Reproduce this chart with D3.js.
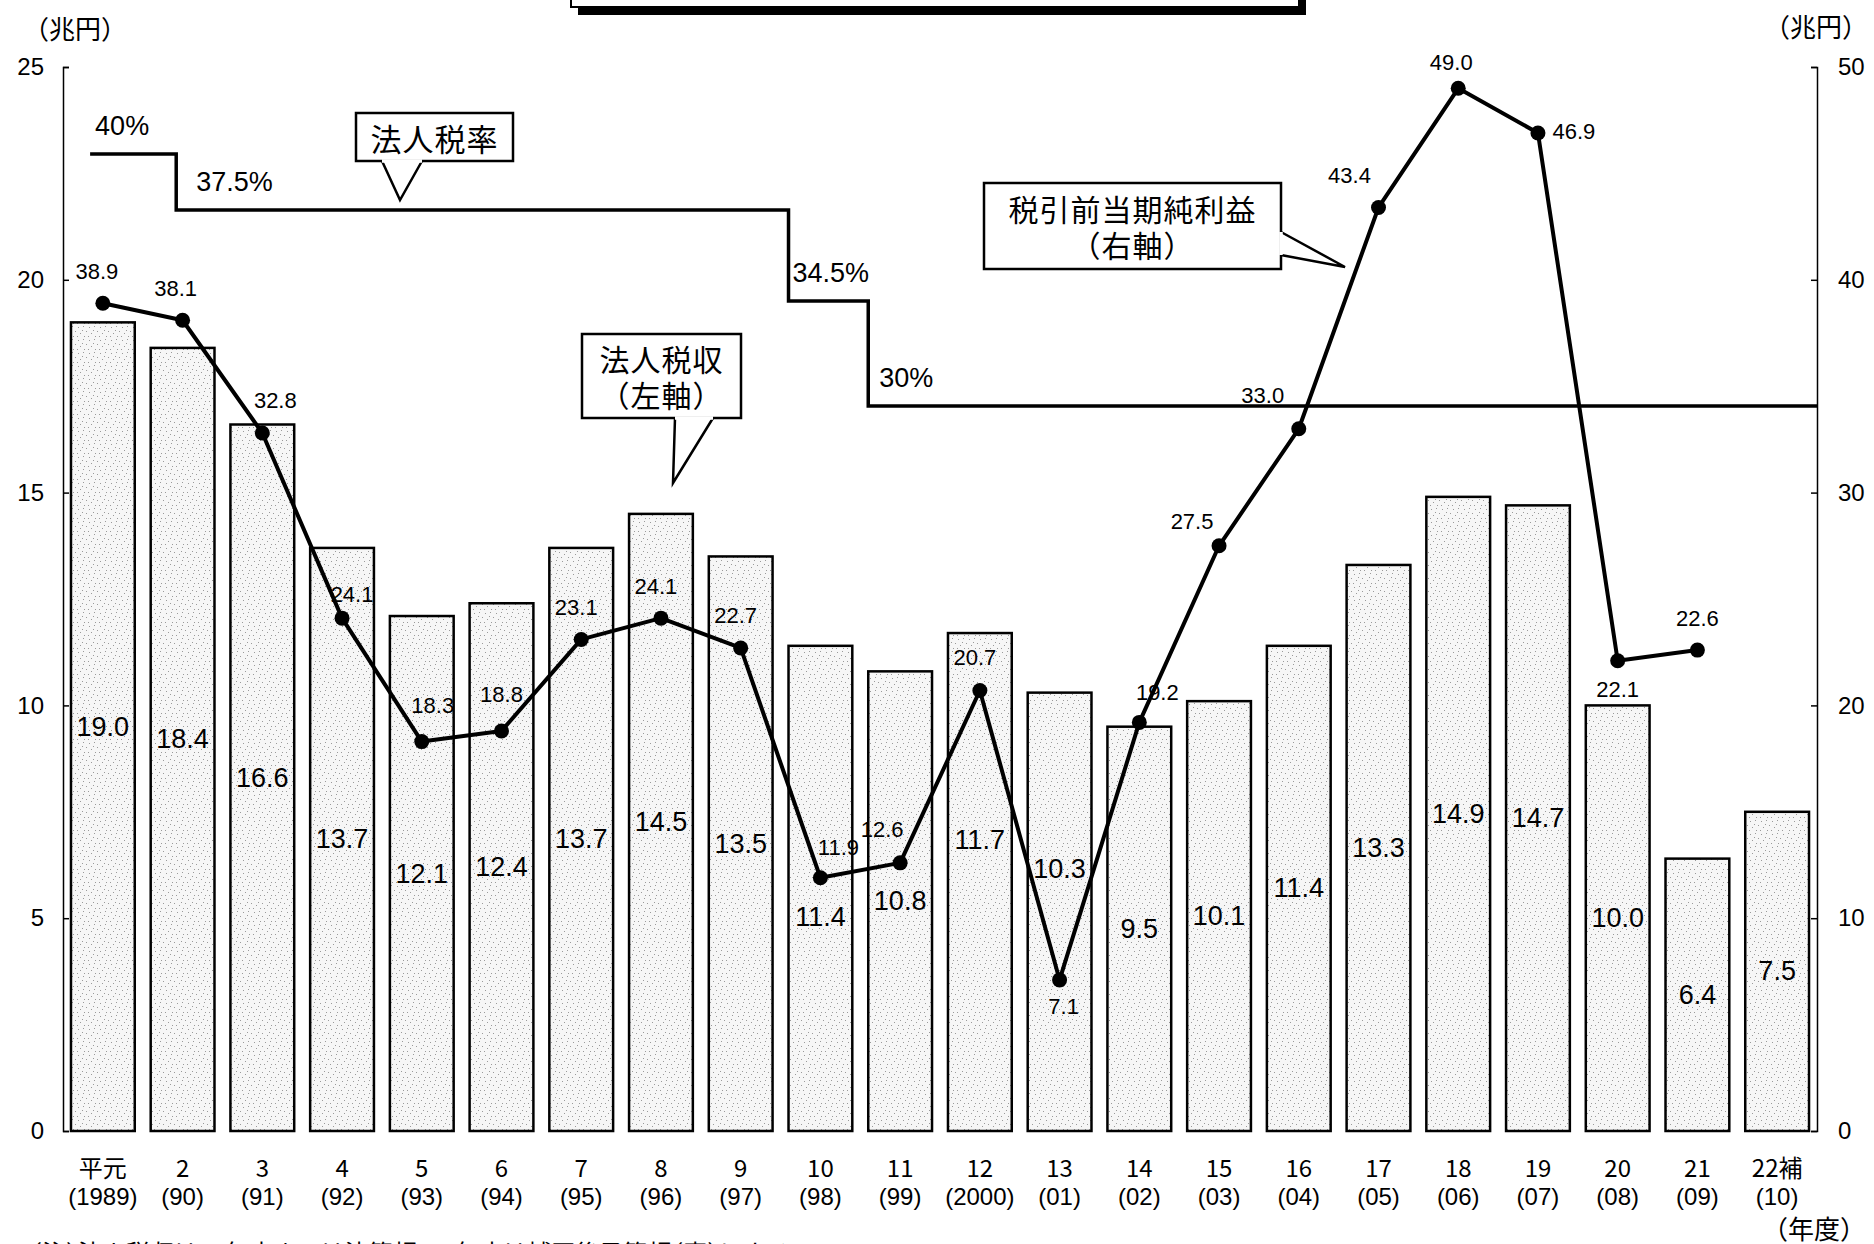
<!DOCTYPE html>
<html>
<head>
<meta charset="utf-8">
<script src="https://cdn.jsdelivr.net/npm/d3@7"></script>
<style>
  html, body { margin: 0; padding: 0; background: #fff; }
  svg { display: block; }
  .num { font-family: "Liberation Sans Narrow", "Liberation Sans", Arial, sans-serif; fill: #000; }
  .jp { font-family: "Noto Sans CJK JP", sans-serif; fill: #000; font-feature-settings: "halt" 1; }
</style>
</head>
<body>
<svg id="chart" width="1874" height="1244"></svg>
<script>
// 年度（カテゴリ）
const categories = ['平元','2','3','4','5','6','7','8','9','10','11','12','13','14','15','16','17','18','19','20','21','22補'];
const fiscalYears = ['(1989)','(90)','(91)','(92)','(93)','(94)','(95)','(96)','(97)','(98)','(99)','(2000)','(01)','(02)','(03)','(04)','(05)','(06)','(07)','(08)','(09)','(10)'];

// 法人税収（左軸、兆円）
const corpTaxRevenue = [19.0, 18.4, 16.6, 13.7, 12.1, 12.4, 13.7, 14.5, 13.5, 11.4, 10.8, 11.7, 10.3, 9.5, 10.1, 11.4, 13.3, 14.9, 14.7, 10.0, 6.4, 7.5];

// 税引前当期純利益（右軸、兆円）
const pretaxProfit = [38.9, 38.1, 32.8, 24.1, 18.3, 18.8, 23.1, 24.1, 22.7, 11.9, 12.6, 20.7, 7.1, 19.2, 27.5, 33.0, 43.4, 49.0, 46.9, 22.1, 22.6, null];

// 法人税率の推移（適用開始年度と税率）
const rateStarts = ['平元','2','10','11'];
const rateValues = [40, 37.5, 34.5, 30];
const rateLabels = ['40%','37.5%','34.5%','30%'];

// 軸目盛
const leftTicks = [0, 5, 10, 15, 20, 25];
const rightTicks = [0, 10, 20, 30, 40, 50];

const svg = d3.select('#chart');

// ---- layout ----
const plotLeft = 63, plotRight = 1817, plotTop = 67, plotBottom = 1131;

const x = d3.scaleBand().domain(categories).range([plotLeft, plotRight]).paddingInner(0.2).paddingOuter(0.1);
const yL = d3.scaleLinear().domain([0, 25]).range([plotBottom, plotTop]);
const yR = d3.scaleLinear().domain([0, 50]).range([plotBottom, plotTop]);
// 税率線は目盛のない模式的な位置
const yRate = d3.scaleLinear().domain([30, 34.5, 37.5, 40]).range([406, 301, 210, 154]);

// stipple fill for bars
const defs = svg.append('defs');
const pat = defs.append('pattern').attr('id', 'stipple').attr('patternUnits', 'userSpaceOnUse')
  .attr('width', 11).attr('height', 13);
pat.append('rect').attr('width', 11).attr('height', 13).attr('fill', '#f6f6f6');
[[1,2],[6,1],[9,6],[3,8],[7,11],[0,11],[5,5]].forEach(([px, py]) => {
  pat.append('rect').attr('x', px).attr('y', py).attr('width', 1).attr('height', 1).attr('fill', '#9a9a9a');
});

// ---- title box (top, cut off by the frame) ----
svg.append('rect').attr('x', 578).attr('y', -40).attr('width', 728).attr('height', 55).attr('fill', '#000');
svg.append('rect').attr('x', 571).attr('y', -47).attr('width', 728).attr('height', 54)
  .attr('fill', '#fff').attr('stroke', '#000').attr('stroke-width', 2);

// ---- bars ----
svg.append('g').selectAll('rect').data(corpTaxRevenue).join('rect')
  .attr('x', (d, i) => x(categories[i]))
  .attr('y', d => yL(d))
  .attr('width', x.bandwidth())
  .attr('height', d => yL(0) - yL(d))
  .attr('fill', 'url(#stipple)')
  .attr('stroke', '#000').attr('stroke-width', 2.5);

// bar value labels (placed mid-bar, nudged where the line passes)
const barLabelShift = { '10': 29, '12': -42, '13': -43 };
svg.append('g').selectAll('text').data(corpTaxRevenue).join('text')
  .attr('class', 'num')
  .attr('x', (d, i) => x(categories[i]) + x.bandwidth() / 2)
  .attr('y', (d, i) => (yL(d) + yL(0)) / 2 + (barLabelShift[categories[i]] || 0))
  .attr('text-anchor', 'middle').attr('dominant-baseline', 'central')
  .attr('font-size', 27)
  .text(d => d.toFixed(1));

// ---- tax rate step line ----
const stepShift = [0.3, 0.4, 0, 0];
const stepX = rateStarts.map((c, i) => x(c) + stepShift[i] * x.bandwidth());
let ratePath = `M${stepX[0]},${yRate(rateValues[0])}`;
for (let i = 1; i < rateValues.length; i++) {
  ratePath += `H${stepX[i]}V${yRate(rateValues[i])}`;
}
ratePath += `H${plotRight}`;
svg.append('path').attr('d', ratePath).attr('fill', 'none').attr('stroke', '#000').attr('stroke-width', 3.5);

const rateLabelOffset = [5, 20, 4, 11];
svg.append('g').selectAll('text').data(rateLabels).join('text')
  .attr('class', 'num')
  .attr('x', (d, i) => stepX[i] + rateLabelOffset[i])
  .attr('y', (d, i) => yRate(rateValues[i]) - 28)
  .attr('dominant-baseline', 'central')
  .attr('font-size', 27)
  .text(d => d);

// ---- pre-tax profit line ----
const pts = pretaxProfit.map((v, i) => ({ v, c: categories[i] })).filter(p => p.v != null);
const cx = p => x(p.c) + x.bandwidth() / 2;
svg.append('path').datum(pts)
  .attr('d', d3.line().x(cx).y(p => yR(p.v)))
  .attr('fill', 'none').attr('stroke', '#000').attr('stroke-width', 4).attr('stroke-linejoin', 'round');
svg.append('g').selectAll('circle').data(pts).join('circle')
  .attr('cx', cx).attr('cy', p => yR(p.v)).attr('r', 7.5).attr('fill', '#000');

// label offsets around each point
const profitLabelOffset = [
  [-6,-32],[-7,-32],[13,-33],[10,-24],[11,-36],[0,-36],[-5,-32],[-5,-32],[-5,-32],[18,-30],
  [-18,-33],[-5,-33],[4,27],[18,-30],[-27,-24],[-36,-33],[-29,-32],[-7,-26],[36,-1],[0,29],[0,-32]
];
svg.append('g').selectAll('text').data(pts).join('text')
  .attr('class', 'num')
  .attr('x', (p, i) => cx(p) + profitLabelOffset[i][0])
  .attr('y', (p, i) => yR(p.v) + profitLabelOffset[i][1])
  .attr('text-anchor', 'middle').attr('dominant-baseline', 'central')
  .attr('font-size', 22)
  .text(p => p.v.toFixed(1));

// ---- axes ----
const axL = svg.append('g').attr('transform', `translate(${plotLeft},0)`)
  .call(d3.axisLeft(yL).tickValues(leftTicks).tickSize(-6).tickPadding(19).tickFormat(d3.format('d')));
const axR = svg.append('g').attr('transform', `translate(${plotRight},0)`)
  .call(d3.axisRight(yR).tickValues(rightTicks).tickSize(-6).tickPadding(21).tickFormat(d3.format('d')));
[axL, axR].forEach(ax => {
  ax.selectAll('path, line').attr('stroke', '#000').attr('stroke-width', 1.5);
  ax.selectAll('text').attr('class', 'num').attr('font-size', 24).attr('fill', '#000');
});

// category labels
const catG = svg.append('g');
catG.selectAll('text.cat').data(categories).join('text')
  .attr('class', 'jp cat')
  .attr('x', c => x(c) + x.bandwidth() / 2).attr('y', 1166)
  .attr('text-anchor', 'middle').attr('dominant-baseline', 'central')
  .attr('font-size', 24)
  .text(c => c);
catG.selectAll('text.fy').data(fiscalYears).join('text')
  .attr('class', 'num fy')
  .attr('x', (d, i) => x(categories[i]) + x.bandwidth() / 2).attr('y', 1196)
  .attr('text-anchor', 'middle').attr('dominant-baseline', 'central')
  .attr('font-size', 24)
  .text(d => d);

// unit labels
svg.append('text').attr('class', 'jp').attr('x', 36).attr('y', 27).attr('dominant-baseline', 'central')
  .attr('font-size', 26).text('（兆円）');
svg.append('text').attr('class', 'jp').attr('x', 1777).attr('y', 25).attr('dominant-baseline', 'central')
  .attr('font-size', 26).text('（兆円）');
svg.append('text').attr('class', 'jp').attr('x', 1775).attr('y', 1227).attr('dominant-baseline', 'central')
  .attr('font-size', 26).text('（年度）');

// ---- callouts ----
function callout(box, tail, lines, fs) {
  const [x0, y0, x1, y1] = box;
  const g = svg.append('g');
  g.append('rect').attr('x', x0).attr('y', y0).attr('width', x1 - x0).attr('height', y1 - y0)
    .attr('fill', '#fff').attr('stroke', '#000').attr('stroke-width', 2.5);
  g.append('path').attr('d', d3.line()(tail)).attr('fill', '#fff').attr('stroke', '#000').attr('stroke-width', 2.5);
  // cover the box edge where the tail joins
  g.append('path').attr('d', d3.line()([tail[0], tail[2]])).attr('stroke', '#fff').attr('stroke-width', 3.5);
  const h = y1 - y0;
  const cxm = (x0 + x1) / 2;
  const lineGap = h * 0.42;
  const t = g.append('text').attr('class', 'jp')
    .attr('x', cxm).attr('y', y0 + h / 2 - lineGap * (lines.length - 1) / 2)
    .attr('text-anchor', 'middle').attr('dominant-baseline', 'central')
    .attr('font-size', fs).attr('letter-spacing', 1);
  lines.forEach((s, i) => {
    t.append('tspan').attr('x', cxm).attr('dy', i === 0 ? 0 : lineGap).text(s);
  });
}
callout([356, 113, 513, 161], [[382, 161], [400, 200], [422, 161]], ['法人税率'], 31);
callout([582, 334, 741, 418], [[675, 418], [673, 483], [713, 418]], ['法人税収', '（左軸）'], 30);
callout([984, 183, 1281, 269], [[1281, 232], [1345, 267], [1281, 255]], ['税引前当期純利益', '（右軸）'], 30);

// 注記（下端）
svg.append('text').attr('class', 'jp').attr('x', 30).attr('y', 1262)
  .attr('font-size', 24).text('（注）法人税収は21年度までは決算額、22年度は補正後予算額（案）による。');
</script>
</body>
</html>
